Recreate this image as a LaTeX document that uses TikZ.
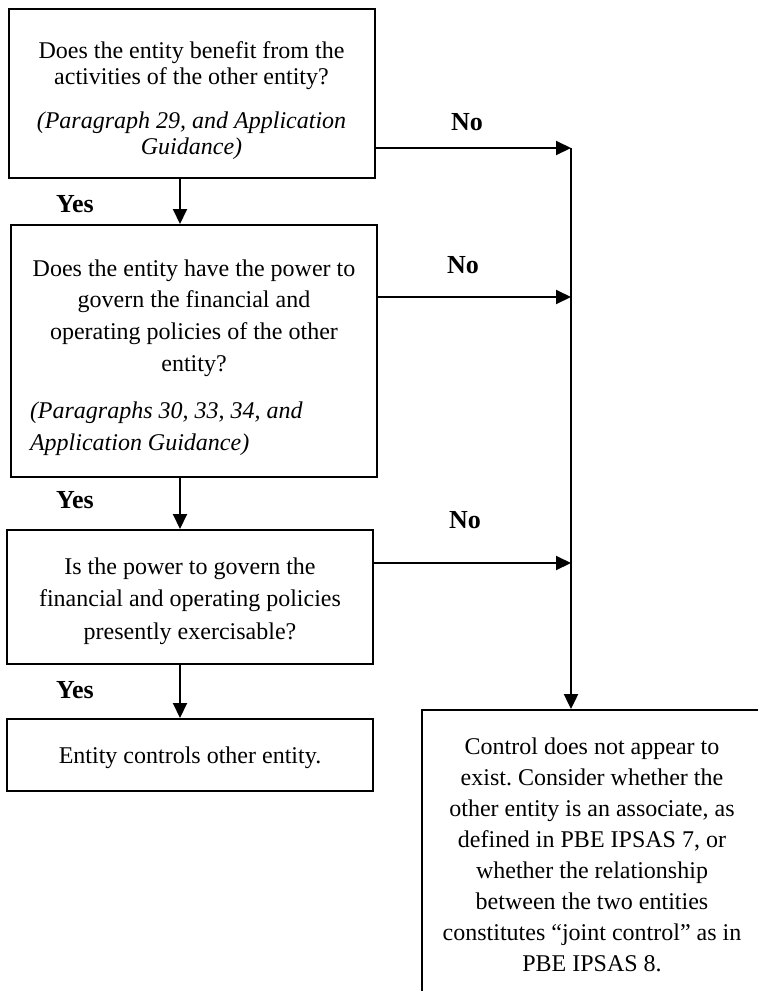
\documentclass[tikz,border=0pt]{standalone}
\usepackage{fontspec}
\setmainfont{Liberation Serif}
\usepackage{tikz}
\usetikzlibrary{arrows.meta, positioning}
\setlength{\parindent}{0pt}
\frenchspacing
\tikzstyle{block} = [rectangle, draw, line width=1pt, anchor=north,
    text width=164pt, inner xsep=9.5pt, inner ysep=0pt, align=flush center]
\tikzstyle{line} = [draw, line width=1pt, -{Triangle[length=7.5pt, width=7pt]}]
\tikzstyle{answer} = [anchor=base, font=\fontsize{13pt}{15pt}\selectfont\bfseries]

\begin{document}
\begin{tikzpicture}[x=0.5pt, y=-0.5pt]
      \useasboundingbox (0,0) rectangle (757,991);
      % Questions
      \node [block, font=\fontsize{12pt}{13pt}\selectfont] (benefit) at (191.5,8)
        {\rule{0pt}{24.5pt}Does the entity benefit from the\\
         activities of the other entity?\\[9pt]
         {\itshape (Paragraph 29, and Application\\ Guidance)\rule[-12pt]{0pt}{12pt}}};
      \node [block, align=flush left, font=\fontsize{12pt}{15.85pt}\selectfont] (govern) at (194,224)
        {{\centering\rule{0pt}{25.5pt}Does the entity have the power to\\
          govern the financial and\\ operating policies of the other\\ entity?\par}
         \vspace{8pt}
         {\itshape (Paragraphs 30, 33, 34, and\\ Application Guidance)\rule[-13pt]{0pt}{13pt}\par}};
      \node [block, font=\fontsize{12pt}{16.25pt}\selectfont] (exercise) at (190,529)
        {\rule{0pt}{22pt}Is the power to govern the\\ financial and operating policies\\
         presently exercisable?\rule[-12.5pt]{0pt}{12.5pt}};
      % Outcomes
      \node [block, font=\fontsize{12pt}{14pt}\selectfont] (controls) at (190,718)
        {\rule{0pt}{22pt}Entity controls other entity.\rule[-14pt]{0pt}{14pt}};
      \node [block, text width=151pt, font=\fontsize{12pt}{15.5pt}\selectfont] (nocontrol) at (592,709)
        {\rule{0pt}{22pt}Control does not appear to\\ exist. Consider whether the\\
         other entity is an associate, as\\ defined in PBE IPSAS 7, or\\
         whether the relationship\\ between the two entities\\
         constitutes “joint control” as in\\ PBE IPSAS 8.\rule[-40pt]{0pt}{40pt}};
      % Answers
      \node [answer] (yes1) at (75,212) {Yes};
      \node [answer] (yes2) at (75,508) {Yes};
      \node [answer] (yes3) at (75,698) {Yes};
      \node [answer] (no1) at (467,130) {No};
      \node [answer] (no2) at (463,273) {No};
      \node [answer] (no3) at (465,528) {No};
      \coordinate (stem) at (180,0);
      \coordinate (spine1) at (571,148);
      \coordinate (spine2) at (571,297);
      \coordinate (spine3) at (571,563);
      % Draw edges
      \path [line] (benefit.south -| stem) -- (govern.north -| stem);
      \path [line] (govern.south -| stem) -- (exercise.north -| stem);
      \path [line] (exercise.south -| stem) -- (controls.north -| stem);
      \path [line] (benefit.east |- spine1) -- (spine1);
      \path [line] (govern.east |- spine2) -- (spine2);
      \path [line] (exercise.east |- spine3) -- (spine3);
      \path [line, line width=1.2pt] (spine1) -- (nocontrol.north -| spine1);
    \end{tikzpicture}
\end{document}
